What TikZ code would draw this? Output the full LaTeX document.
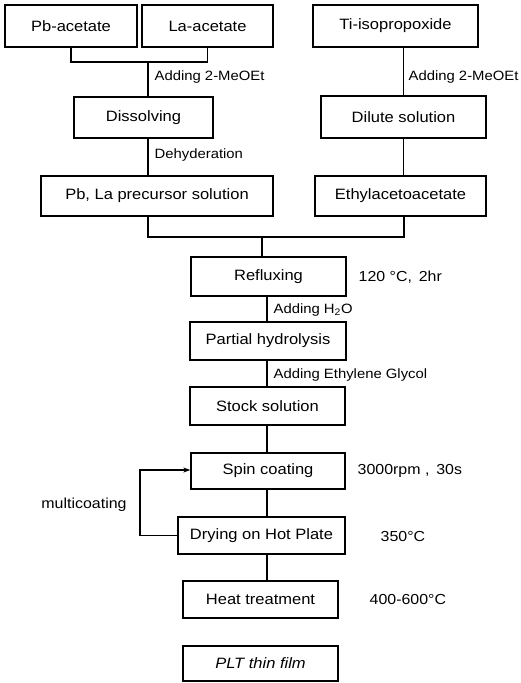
\documentclass[tikz,border=0pt]{standalone}
\usepackage{fontspec}
\setmainfont{Liberation Sans}[FakeStretch=1.1]
\usetikzlibrary{arrows.meta}
\begin{document}
\begin{tikzpicture}[x=1pt,y=-1pt,line width=1.3pt,
  box/.style={draw,line width=1.3pt,inner sep=0pt,font=\fontsize{15}{17}\selectfont},
  lbl/.style={inner sep=0pt,anchor=west,font=\fontsize{13.5}{15}\selectfont},
  side/.style={inner sep=0pt,anchor=west,font=\fontsize{14.5}{17}\selectfont}]
\useasboundingbox (0,0) rectangle (521,683);
% boxes
\node[box,minimum width=132pt,minimum height=42pt] (pb) at (71,26) {Pb-acetate};
\node[box,minimum width=131pt,minimum height=42pt] (la) at (207.5,26) {La-acetate};
\node[box,minimum width=165pt,minimum height=42pt] (ti) at (395.5,26) {Ti-isopropoxide};
\node[box,minimum width=139pt,minimum height=41pt] (dis) at (143.5,117.5) {Dissolving};
\node[box,minimum width=165pt,minimum height=42pt] (dil) at (403.5,117) {Dilute solution};
\node[box,minimum width=232pt,minimum height=40pt] (pre) at (157,196) {Pb, La precursor solution};
\node[box,minimum width=171pt,minimum height=40pt] (eth) at (400.5,196) {Ethylacetoacetate};
\node[box,minimum width=155pt,minimum height=39pt] (ref) at (268.5,276.5) {Refluxing};
\node[box,minimum width=156pt,minimum height=38pt] (hyd) at (268,341) {Partial hydrolysis};
\node[box,minimum width=155pt,minimum height=38pt] (sto) at (267.5,406) {Stock solution};
\node[box,minimum width=154pt,minimum height=36pt] (spin) at (268,471) {Spin coating};
\node[box,minimum width=167pt,minimum height=37pt] (dry) at (261.5,535.5) {Drying on Hot Plate};
\node[box,minimum width=155pt,minimum height=37pt] (heat) at (260.5,599.5) {Heat treatment};
\node[box,minimum width=155pt,minimum height=35pt] (plt) at (260.5,663.5) {\itshape PLT thin film};
% junction coordinates
\coordinate (j1) at (148,62);
\coordinate (j2) at (148,237);
\coordinate (j3) at (404,237);
\coordinate (j4) at (262,237);
\coordinate (fb1) at (140,535.5);
\coordinate (fb2) at (140,470);
% connectors
\draw (pb.south) -- (pb.south |- j1) -- (la.south |- j1) -- (la.south);
\draw (j1) -- (j1 |- dis.north);
\draw (j1 |- dis.south) -- (j1 |- pre.north);
\draw (dil.north |- ti.south) -- (dil.north);
\draw (dil.north |- dil.south) -- (dil.north |- eth.north);
\draw (j2 |- pre.south) -- (j2) -- (j3) -- (j3 |- eth.south);
\draw (j4) -- (j4 |- ref.north);
\draw (267,0 |- ref.south) -- (267,0 |- hyd.north);
\draw (267,0 |- hyd.south) -- (267,0 |- sto.north);
\draw (267,0 |- sto.south) -- (267,0 |- spin.north);
\draw (267,0 |- spin.south) -- (267,0 |- dry.north);
\draw (267,0 |- dry.south) -- (267,0 |- heat.north);
\draw[-{Stealth[length=7pt,width=5pt]}] (dry.west) -- (fb1) -- (fb2) -- (fb2 -| spin.west);
% labels
\node[lbl] (l1) at (154,77) {Adding 2-MeOEt};
\node[lbl] (l2) at (408,77) {Adding 2-MeOEt};
\node[lbl] (l3) at (154,155) {Dehyderation};
\node[lbl] (l4) at (273,310) {Adding H\textsubscript{2}O};
\node[lbl] (l5) at (273,375) {Adding Ethylene Glycol};
\node[side] (s1) at (358,277) {120 °C, \,2hr};
\node[side] (s2) at (357,471) {3000rpm , \,30s};
\node[side] (s3) at (380,537) {350°C};
\node[side] (s4) at (369,600) {400-600°C};
\node[side,anchor=center] (mc) at (84,505) {multicoating};
\end{tikzpicture}
\end{document}
